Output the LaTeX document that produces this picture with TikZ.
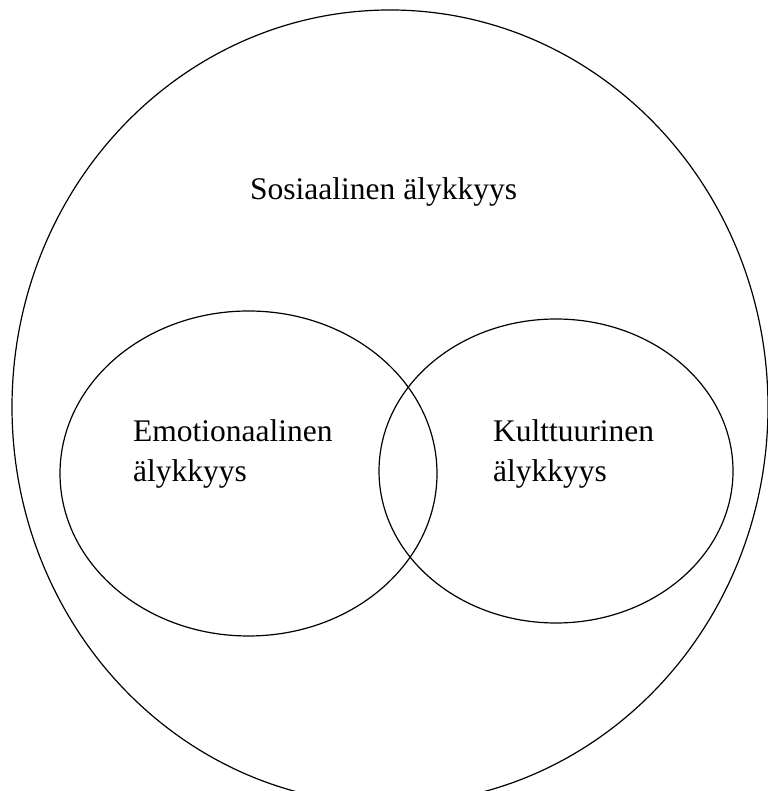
\documentclass[tikz,border=0pt]{standalone}
\usepackage{fontspec}
\setmainfont{Liberation Serif}
\usetikzlibrary{shapes.geometric}
\begin{document}
\begin{tikzpicture}[x=1pt,y=1pt,
  ring/.style={draw=black,line width=1.2pt,ellipse,inner sep=0pt},
  lbl/.style={anchor=base west,inner sep=0pt,font=\fontsize{31.5}{40}\selectfont}]
\useasboundingbox (0,0) rectangle (767,791);
\node[ring,minimum width=756pt,minimum height=794pt] (social) at (390,384) {};
\node[ring,minimum width=377pt,minimum height=325pt] (emo) at (248.5,317.5) {};
\node[ring,minimum width=354pt,minimum height=304pt] (cult) at (556,320) {};
\node[lbl] (t1) at (250,591) {Sosiaalinen älykkyys};
\node[lbl] (t2) at (133,349) {Emotionaalinen};
\node[lbl] (t3) at (133,309) {älykkyys};
\node[lbl] (t4) at (493,349) {Kulttuurinen};
\node[lbl] (t5) at (493,309) {älykkyys};
\end{tikzpicture}
\end{document}
